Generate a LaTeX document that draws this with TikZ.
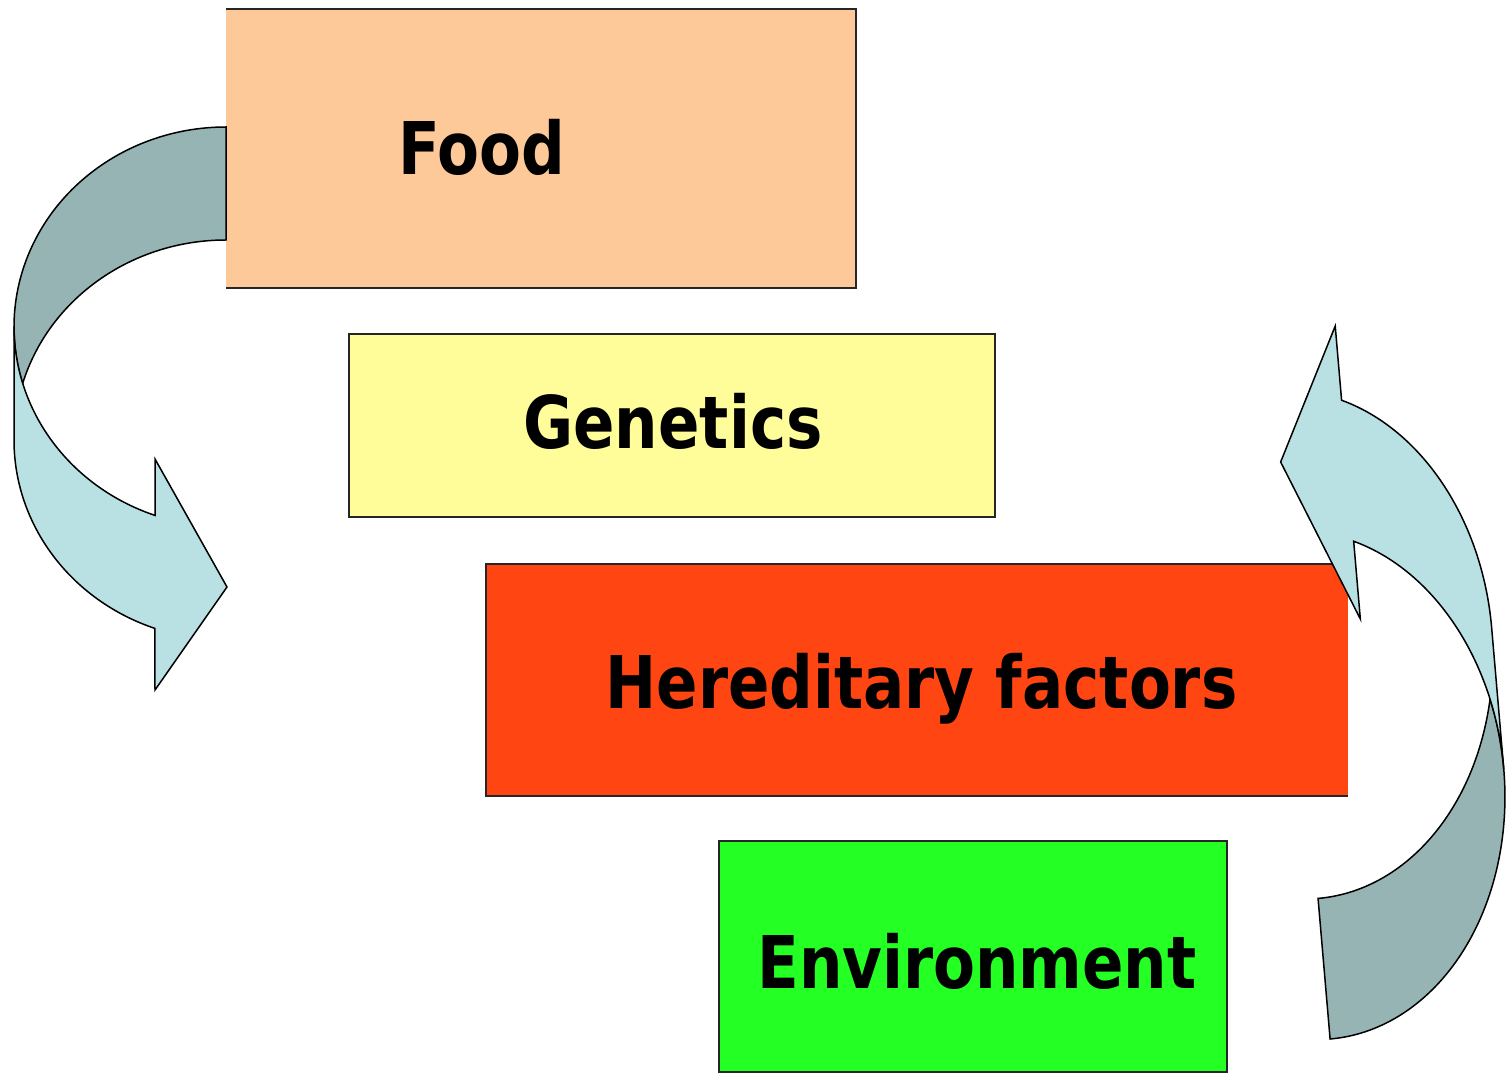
\documentclass[tikz,border=0pt]{standalone}
\usepackage{fontspec}
\setmainfont{DejaVu Sans}[FakeStretch=0.84]
\usetikzlibrary{positioning}

\definecolor{foodfill}{HTML}{FEC998}
\definecolor{genefill}{HTML}{FFFD99}
\definecolor{heredfill}{HTML}{FF4511}
\definecolor{envfill}{HTML}{24FF24}
\definecolor{banddark}{HTML}{97B4B5}
\definecolor{bandlight}{HTML}{B9E0E3}

\tikzset{
  box/.style={rectangle, inner sep=0pt, outer sep=0pt},
  boxline/.style={draw=black!85, line width=2pt},
  lbl/.style={anchor=base, inner sep=0pt, font=\fontsize{72.7}{80}\selectfont\bfseries},
  bandback/.style={fill=banddark, draw=black, line width=1.5pt},
  bandfront/.style={fill=bandlight, draw=black, line width=1.5pt},
}

\begin{document}
\begin{tikzpicture}[x=1pt, y=-1pt]
\useasboundingbox (0,0) rectangle (1506,1075);

% the four boxes
\node[box, fill=foodfill, minimum width=630pt, minimum height=279pt] (food) at (541,148.5) {};
\draw[boxline] (food.north west) -- (food.north east) -- (food.south east) -- (food.south west);
\node[box, boxline, fill=genefill, minimum width=646pt, minimum height=183pt] (genetics) at (672,425.5) {};
\node[box, fill=heredfill, minimum width=862pt, minimum height=232pt] (hered) at (917,680) {};
\draw[boxline] (hered.north east) -- (hered.north west) -- (hered.south west) -- (hered.south east);
\node[box, boxline, fill=envfill, minimum width=508pt, minimum height=231pt] (env) at (973,956.5) {};

\node[lbl] (foodlbl) at (482,175) {Food};
\node[lbl] (genelbl) at (673,448) {Genetics};
\node[lbl] (heredlbl) at (921.5,708) {Hereditary factors};
\node[lbl] (envlbl) at (977,988) {Environment};

% left curved arrow, from Food down to Genetics
\draw[bandback] (226,127)
  arc[start angle=270, end angle=163.59, x radius=212, y radius=200]
  arc[start angle=196.41, end angle=270, x radius=212, y radius=200] -- cycle;
\draw[bandfront] (14,327) -- (14,440)
  arc[start angle=180, end angle=109.6, x radius=212, y radius=200]
  -- (155,690) -- (227,587) -- (155,459) -- (155,515.4)
  arc[start angle=109.6, end angle=180, x radius=212, y radius=200] -- cycle;

% right curved arrow, from Environment up to Hereditary factors
\begin{scope}[shift={(1318,898)}, rotate=4.9]
\draw[bandback] (0,141.5)
  arc[start angle=90, end angle=-16.1, x radius=196.1, y radius=254.4]
  arc[start angle=16.1, end angle=90, x radius=196.1, y radius=254.4] -- cycle;
\draw[bandfront] (196.1,-112.9) -- (196.1,-254.4)
  arc[start angle=0, end angle=-70.33, x radius=196.1, y radius=254.4]
  -- (66,-568.4) -- (0,-437.6) -- (66,-274.4) -- (66,-352.4)
  arc[start angle=-70.33, end angle=0, x radius=196.1, y radius=254.4] -- cycle;
\end{scope}
\end{tikzpicture}
\end{document}
